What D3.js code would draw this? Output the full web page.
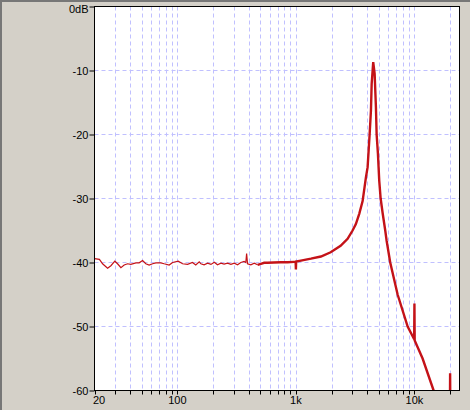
<!DOCTYPE html>
<html>
<head>
<meta charset="utf-8">
<script src="https://cdn.jsdelivr.net/npm/d3@7"></script>
<style>
  html, body { margin: 0; padding: 0; background: #d4d0c8; }
  svg { display: block; }
  text { font-family: "Liberation Sans", Arial, sans-serif; font-size: 11px; fill: #000; }
</style>
</head>
<body>
<script>
// ---- data ----
const freqs = [20, 22, 23.4, 25.8, 27.5, 29.7, 31.3, 33.4, 35.6, 38, 40.5, 44.7, 47.6, 50.9, 54.2, 57.8, 61.8, 65.9, 72.6, 77.4, 85.3, 91.2, 101.7, 110.7, 122, 134, 143, 153,
  158, 168, 180, 192, 205, 218, 233, 248, 265, 283, 302, 322, 343, 366, 378, 384, 391, 417, 445, 475, 507, 540, 577, 650, 747, 851, 968, 995, 1000, 1005,
  1102, 1339, 1626, 1965, 2383, 2730, 3007, 3206, 3423, 3655, 3897, 4028, 4188, 4297, 4357, 4439, 4491, 4616, 4733, 4799, 4920, 5047, 5188, 5395, 5673, 5827,
  6248, 7213, 8766, 9950, 10000, 10050, 11720, 14520, 16500, 19900, 20000, 20100, 24000];
const levels = [-39.4, -39.5, -40.2, -40.9, -40.5, -39.8, -40.2, -40.8, -40.4, -40.2, -40.3, -40.05, -40.05, -39.7, -40.2, -40.4, -40.2, -40.05, -40.05, -40.2, -40.4, -40.0, -39.8, -40.2, -40.3, -40.0, -40.4, -39.9,
  -40.2, -40.36, -40.1, -40.3, -39.95, -40.36, -40.1, -40.25, -40.1, -40.3, -40.1, -40.36, -40.0, -39.84, -40.0, -38.6, -40.2, -40.36, -40.1, -40.36, -40.2, -40.05, -40.05, -40.0, -39.95, -39.95, -39.9, -39.9, -41.1, -39.85,
  -39.7, -39.4, -39.06, -38.4, -37.4, -36.3, -35.0, -34.0, -32.4, -30.4, -26.7, -25.1, -20.0, -16.25, -12.1, -10.0, -8.7, -10.5, -15.7, -20.0, -23.0, -27.2, -30.0, -32.3, -35.0, -36.6,
  -40.0, -45.0, -50.0, -52.0, -46.4, -52.2, -55.0, -60.0, -63.0, -65.0, -57.3, -65.0, -68.0];

const xDomain = [20, 24000];
const yDomain = [-60, 0];
const gridFreqs = [30, 40, 50, 60, 70, 80, 90, 100, 200, 300, 400, 500, 600, 700, 800, 900,
  1000, 2000, 3000, 4000, 5000, 6000, 7000, 8000, 9000, 10000, 20000];
const xTickValues = [20, 30, 40, 50, 60, 70, 80, 90, 100, 200, 300, 400, 500, 600, 700, 800, 900,
  1000, 2000, 3000, 4000, 5000, 6000, 7000, 8000, 9000, 10000, 20000];
const xLabelValues = [20, 100, 1000, 10000];
const xLabelTexts = ["20", "100", "1k", "10k"];
const yTickValues = [0, -10, -20, -30, -40, -50, -60];
const yLabelTexts = ["0dB", "-10", "-20", "-30", "-40", "-50", "-60"];
const gridLevels = [-10, -20, -30, -40, -50];

// ---- layout ----
const W = 470, H = 410;
const L = 94.5, R = 459.5, T = 6.5, B = 390.5;

const svg = d3.select("body").append("svg").attr("width", W).attr("height", H);
svg.append("rect").attr("width", W).attr("height", H).attr("fill", "#d4d0c8");
// window edges
svg.append("rect").attr("x", 0).attr("y", 0).attr("width", 2).attr("height", H).attr("fill", "#777");
svg.append("rect").attr("x", 0).attr("y", 0).attr("width", W).attr("height", 2).attr("fill", "#777");

const x = d3.scaleLog().domain(xDomain).range([L, R]);
const y = d3.scaleLinear().domain(yDomain).range([B, T]);

svg.append("rect").attr("x", L).attr("y", T).attr("width", R - L).attr("height", B - T).attr("fill", "#fff");

// grid
const grid = svg.append("g").attr("stroke", "#c0c0ff").attr("stroke-width", 1).attr("stroke-dasharray", "4,3");
grid.selectAll("line.v").data(gridFreqs).join("line")
  .attr("x1", d => Math.round(x(d)) + 0.5).attr("x2", d => Math.round(x(d)) + 0.5)
  .attr("y1", T).attr("y2", B);
grid.selectAll("line.h").data(gridLevels).join("line")
  .attr("x1", L).attr("x2", R)
  .attr("y1", d => y(d)).attr("y2", d => y(d));

// curve
svg.append("defs").append("clipPath").attr("id", "clip")
  .append("rect").attr("x", L).attr("y", T).attr("width", R - L).attr("height", B - T);

const pts = freqs.map((f, i) => [f, levels[i]]);
const line = d3.line().x(d => x(d[0])).y(d => y(d[1]));
const splitF = 450;
const low = pts.filter(d => d[0] <= 475);
const high = pts.filter(d => d[0] >= splitF);
const cg = svg.append("g").attr("clip-path", "url(#clip)").attr("fill", "none").attr("stroke", "#c41218").attr("stroke-linejoin", "miter");
cg.append("path").attr("d", line(low)).attr("stroke-width", 1.2);
cg.append("path").attr("d", line(high)).attr("stroke-width", 2.4);

// border
svg.append("rect").attr("x", L).attr("y", T).attr("width", R - L).attr("height", B - T)
  .attr("fill", "none").attr("stroke", "#000").attr("stroke-width", 1);

// x axis ticks
const xAxis = d3.axisBottom(x).tickValues(xTickValues).tickSize(4).tickFormat("");
const gx = svg.append("g").attr("transform", `translate(0,${B})`).call(xAxis);
gx.select(".domain").remove();
gx.selectAll(".tick line").attr("stroke", "#000");
gx.selectAll(".tick").attr("transform", d => `translate(${Math.round(x(d)) + 0.5},0)`);

svg.append("g").selectAll("text").data(xLabelValues).join("text")
  .attr("x", d => d === xDomain[0] ? x(d) - 1.5 : x(d))
  .attr("y", 404)
  .attr("text-anchor", d => d === xDomain[0] ? "start" : "middle")
  .text((d, i) => xLabelTexts[i]);

// y axis
const yAxis = d3.axisLeft(y).tickValues(yTickValues).tickSize(5).tickFormat((d, i) => yLabelTexts[i]).tickPadding(1);
const gy = svg.append("g").attr("transform", `translate(${L},0)`).call(yAxis);
gy.select(".domain").remove();
gy.selectAll(".tick line").attr("stroke", "#000");
gy.selectAll(".tick text")
  .attr("font-family", "Liberation Sans, Arial, sans-serif").attr("font-size", 11).attr("fill", "#000")
  .attr("dy", null)
  .attr("y", d => Math.max(4, 12 - (y(d) - T) - 0) );
gy.selectAll(".tick text").attr("y", d => (y(d) < 12 ? 5.5 : 4));
</script>
</body>
</html>
